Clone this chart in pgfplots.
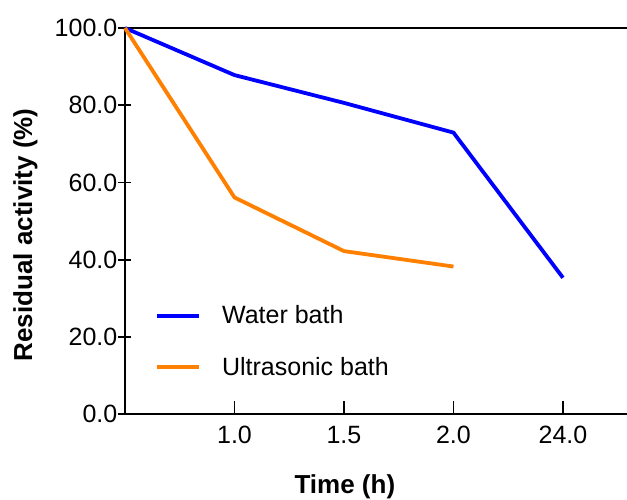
\documentclass[border=0pt]{standalone}
\usepackage{fontspec}
\setmainfont{Liberation Sans}
\usepackage{pgfplots}
\pgfplotsset{compat=1.18}
\definecolor{wblue}{RGB}{0,0,255}
\definecolor{uorange}{RGB}{255,128,0}
\begin{document}
\begin{tikzpicture}
\begin{axis}[
  scale only axis,
  width=502pt, height=386pt,
  xmin=0, xmax=4.585,
  ymin=0, ymax=100,
  axis x line=box,
  axis y line=left,
  y axis line style={-},
  axis line style={line width=1.8pt, black},
  xtick={1,2,3,4},
  xticklabels={1.0,1.5,2.0,24.0},
  xtick pos=lower,
  ytick={0,20,40,60,80,100},
  yticklabel style={/pgf/number format/fixed, /pgf/number format/fixed zerofill, /pgf/number format/precision=1},
  /pgf/number format/assume math mode=true,
  ticklabel style={font=\fontsize{25}{25}\selectfont, inner sep=0pt},
  x tick style={line width=1.8pt, black},
  y tick style={line width=1.8pt, black},
  xtick align=inside,
  ytick align=center,
  major tick length=13pt,
  xticklabel style={yshift=-12pt},
  yticklabel style={xshift=-1pt},
  xlabel={\textbf{Time (h)}},
  ylabel={\textbf{Residual activity (\%)}},
  label style={font=\fontsize{26}{26}\selectfont, inner sep=0pt},
  xlabel style={at={(axis description cs:0.438,-0.2047)}, anchor=base},
  ylabel style={at={(axis description cs:-0.185,0.464)}, anchor=base},
  legend style={draw=none, fill=none, at={(axis description cs:0.06,0.286)}, anchor=north west,
    font=\fontsize{25}{25}\selectfont, row sep=28pt, inner sep=0pt},
  legend cell align=left,
  legend image code/.code={\draw[#1] (0pt,0pt) -- (42pt,0pt);},
  clip=false,
]
\addplot[wblue, line width=3.8pt] coordinates {(0,100) (1,87.8) (2,80.6) (3,72.9) (4,35.3)};
\addlegendentry{\hspace{19pt}Water bath}
\addplot[uorange, line width=3.8pt] coordinates {(0,100) (1,56.1) (2,42.2) (3,38.2)};
\addlegendentry{\hspace{19pt}Ultrasonic bath}
\coordinate (bl) at (rel axis cs:0,0);
\coordinate (tr) at (rel axis cs:1,1);
\end{axis}
\pgfresetboundingbox
\useasboundingbox ([shift={(-125pt,-85pt)}]bl) rectangle ([shift={(0pt,28pt)}]tr);
\end{tikzpicture}
\end{document}
